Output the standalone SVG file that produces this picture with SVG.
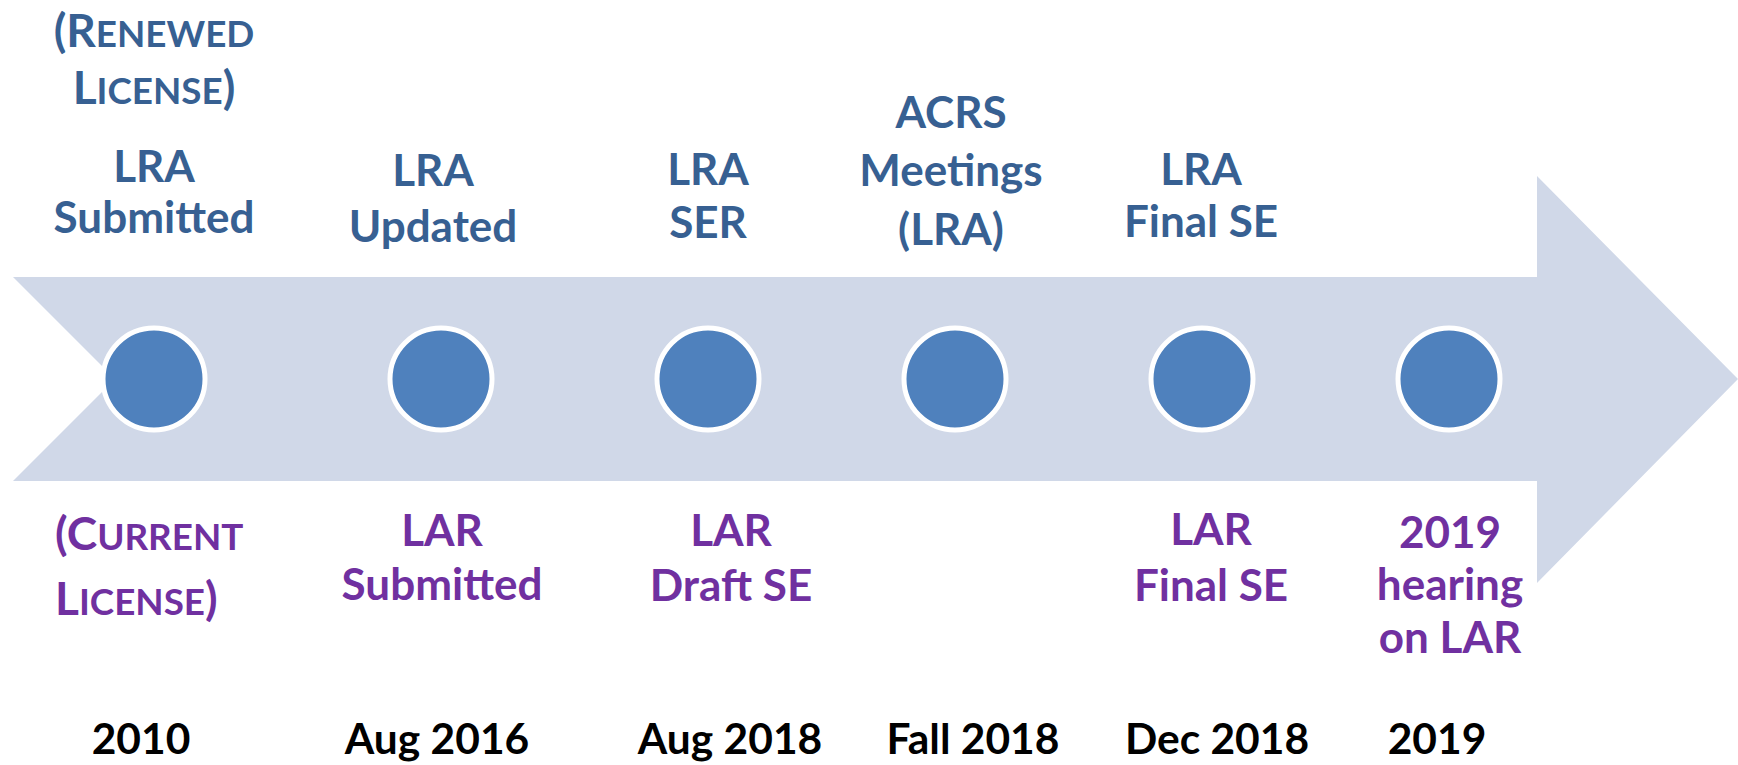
<svg xmlns="http://www.w3.org/2000/svg" width="1738" height="765" viewBox="0 0 1738 765">
<style>
text{font-family:Lato,"Liberation Sans",sans-serif;font-weight:bold;font-size:44px;}
.b{fill:#376092;text-anchor:middle;}
.p{fill:#7030A0;text-anchor:middle;}
.ps{fill:#7030A0;font-size:46px;}
.bs{fill:#376092;text-anchor:middle;font-size:46px;}
.y{fill:#000;text-anchor:middle;font-size:42.5px;}
.dot{fill:#4F81BD;stroke:#fff;stroke-width:5;}
.sc{font-size:0.8em;}
</style>
<rect width="1738" height="765" fill="#fff"/>
<g id="arrow">
<polygon points="13,277 1537,277 1537,176 1738,379 1537,583 1537,481 13,481 115,379" fill="#D0D8E8"/>
</g>
<g id="connectors"></g>
<g id="m1"><circle class="dot" cx="154" cy="379" r="51"/></g>
<g id="m2"><circle class="dot" cx="441" cy="379" r="51"/></g>
<g id="m3"><circle class="dot" cx="708" cy="379" r="51"/></g>
<g id="m4"><circle class="dot" cx="955" cy="379" r="51"/></g>
<g id="m5"><circle class="dot" cx="1202" cy="379" r="51"/></g>
<g id="m6"><circle class="dot" cx="1449" cy="379" r="51"/></g>
<g id="top1">
<text class="bs" x="154" y="47">(R<tspan class="sc">ENEWED</tspan></text>
<text class="bs" x="154" y="104">L<tspan class="sc">ICENSE</tspan>)</text>
<text class="b" x="154" y="182">LRA</text>
<text class="b" x="154" y="233">Submitted</text>
</g>
<g id="top2">
<text class="b" x="433" y="186">LRA</text>
<text class="b" x="433" y="242">Updated</text>
</g>
<g id="top3">
<text class="b" x="708" y="185">LRA</text>
<text class="b" x="708" y="238">SER</text>
</g>
<g id="top4">
<text class="b" x="951" y="128">ACRS</text>
<text class="b" x="951" y="186">Meetings</text>
<text class="b" x="951" y="245">(LRA)</text>
</g>
<g id="top5">
<text class="b" x="1201" y="185">LRA</text>
<text class="b" x="1201" y="237">Final SE</text>
</g>
<g id="bot1">
<text class="ps" x="55" y="550">(C<tspan class="sc">URRENT</tspan></text>
<text class="ps" x="55" y="615">L<tspan class="sc">ICENSE</tspan>)</text>
</g>
<g id="bot2">
<text class="p" x="442" y="546">LAR</text>
<text class="p" x="442" y="600">Submitted</text>
</g>
<g id="bot3">
<text class="p" x="731" y="546">LAR</text>
<text class="p" x="731" y="601">Draft SE</text>
</g>
<g id="bot5">
<text class="p" x="1211" y="545">LAR</text>
<text class="p" x="1211" y="601">Final SE</text>
</g>
<g id="bot6">
<text class="p" x="1450" y="548">2019</text>
<text class="p" x="1450" y="600">hearing</text>
<text class="p" x="1450" y="653">on LAR</text>
</g>
<g id="years">
<text class="y" x="141" y="754">2010</text>
<text class="y" x="437" y="754">Aug 2016</text>
<text class="y" x="730" y="754">Aug 2018</text>
<text class="y" x="973" y="754">Fall 2018</text>
<text class="y" x="1217" y="754">Dec 2018</text>
<text class="y" x="1437" y="754">2019</text>
</g>
</svg>
